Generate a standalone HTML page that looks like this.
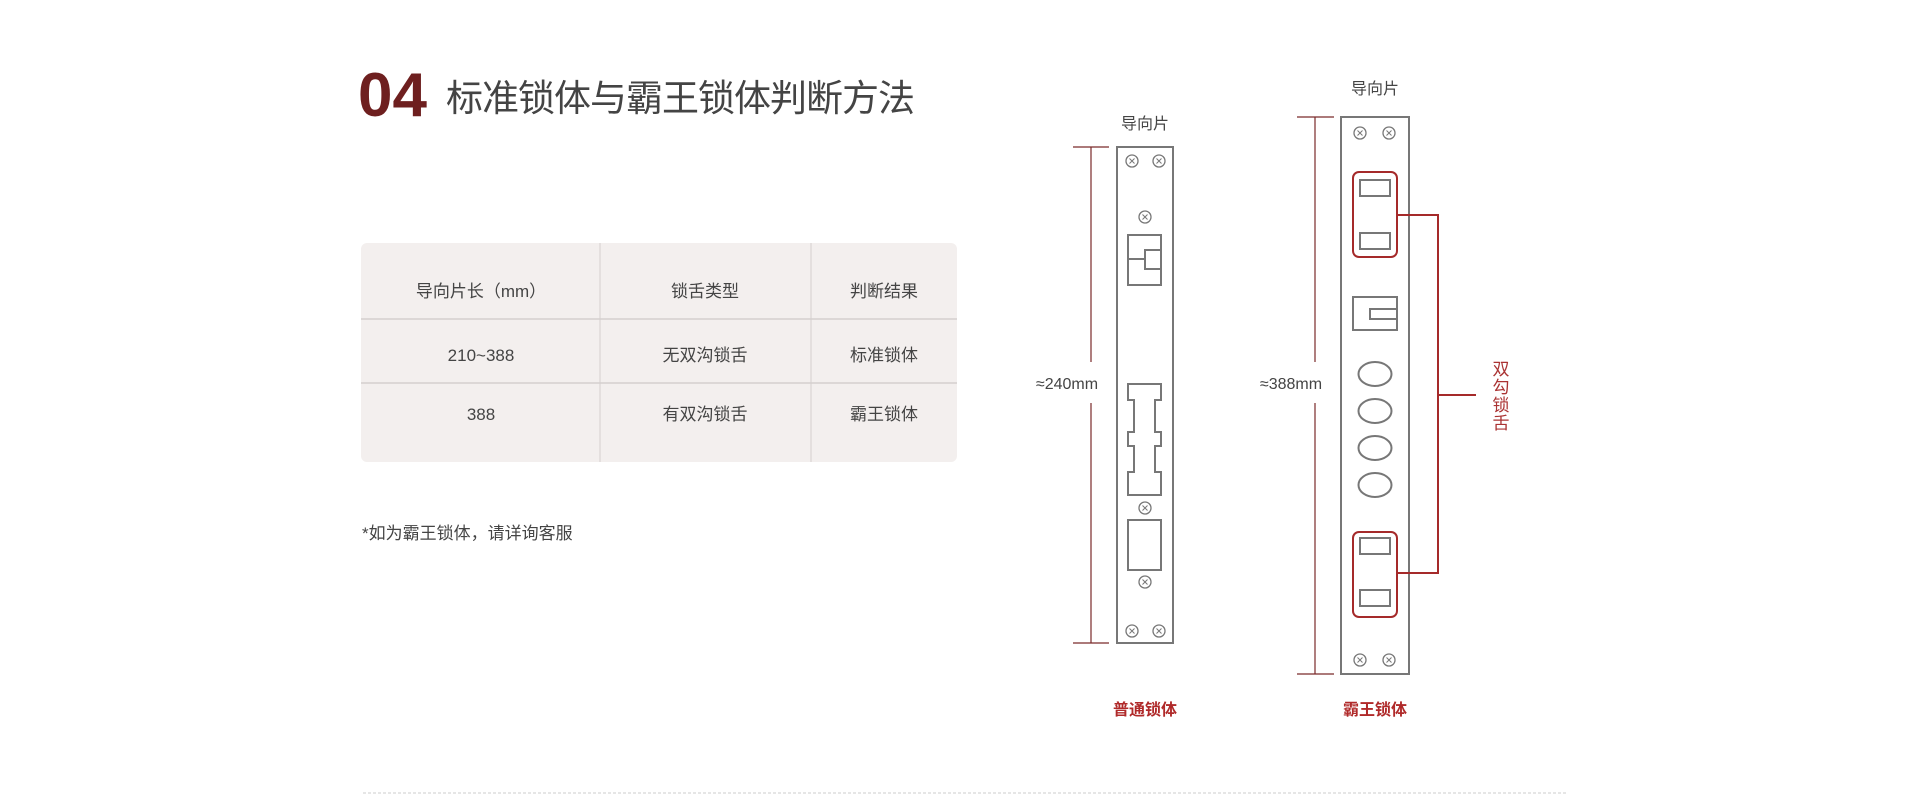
<!DOCTYPE html>
<html><head><meta charset="utf-8"><style>
html,body{margin:0;padding:0;background:#fff;}
svg{display:block;}
text{font-family:"Liberation Sans","Noto Sans CJK SC",sans-serif;}
</style></head><body>
<svg width="1920" height="804" viewBox="0 0 1920 804" xmlns="http://www.w3.org/2000/svg">
<defs>
<g id="sc"><circle r="6" fill="#fff" stroke="#777" stroke-width="1.3"/><path d="M-2.5 -2.5 L2.5 2.5 M2.5 -2.5 L-2.5 2.5" stroke="#777" stroke-width="1"/></g>
</defs>
<text x="358" y="116" font-size="62" font-weight="bold" fill="#6e1f1f">04</text>
<text x="446" y="111" font-size="37" fill="#444" letter-spacing="-1">标准锁体与霸王锁体判断方法</text>

<rect x="361" y="243" width="596" height="219" rx="6" fill="#f3efee"/>
<line x1="600" y1="243" x2="600" y2="462" stroke="#d4cfce" stroke-width="1"/>
<line x1="811" y1="243" x2="811" y2="462" stroke="#d4cfce" stroke-width="1"/>
<line x1="361" y1="319" x2="957" y2="319" stroke="#d4cfce" stroke-width="1.5"/>
<line x1="361" y1="383" x2="957" y2="383" stroke="#d4cfce" stroke-width="1.5"/>
<g font-size="17" fill="#444" text-anchor="middle">
<text x="481" y="297">导向片长（mm）</text>
<text x="705" y="297">锁舌类型</text>
<text x="884" y="297">判断结果</text>
<text x="481" y="361">210~388</text>
<text x="705" y="361">无双沟锁舌</text>
<text x="884" y="361">标准锁体</text>
<text x="481" y="420">388</text>
<text x="705" y="420">有双沟锁舌</text>
<text x="884" y="420">霸王锁体</text>
</g>
<text x="362" y="539" font-size="17" fill="#444">*如为霸王锁体，请详询客服</text>

<!-- left lock -->
<text x="1145" y="129" font-size="16" fill="#444" text-anchor="middle">导向片</text>
<g stroke="#7a2a2a" stroke-width="1.2" fill="none">
<line x1="1073" y1="147" x2="1109" y2="147"/><line x1="1073" y1="643" x2="1109" y2="643"/>
<line x1="1091" y1="147" x2="1091" y2="362"/><line x1="1091" y1="403" x2="1091" y2="643"/>
</g>
<text x="1067" y="389" font-size="16" fill="#444" text-anchor="middle">≈240mm</text>
<g stroke="#777" stroke-width="2" fill="none">
<rect x="1117" y="147" width="56" height="496" fill="#fff"/>
<rect x="1128" y="235" width="33" height="50"/>
<line x1="1128" y1="259" x2="1145" y2="259"/>
<rect x="1145" y="250" width="16" height="19"/>
<path d="M1128 384 H1161 V400 H1155 V432 H1161 V446 H1155 V472 H1161 V495 H1128 V472 H1134 V446 H1128 V432 H1134 V400 H1128 Z"/>
<rect x="1128" y="520" width="33" height="50"/>
</g>
<use href="#sc" x="1132" y="161"/><use href="#sc" x="1159" y="161"/>
<use href="#sc" x="1145" y="217"/><use href="#sc" x="1145" y="508"/><use href="#sc" x="1145" y="582"/>
<use href="#sc" x="1132" y="631"/><use href="#sc" x="1159" y="631"/>
<text x="1145" y="715" font-size="16" font-weight="bold" fill="#b02a2a" text-anchor="middle">普通锁体</text>

<!-- right lock -->
<text x="1375" y="94" font-size="16" fill="#444" text-anchor="middle">导向片</text>
<g stroke="#7a2a2a" stroke-width="1.2" fill="none">
<line x1="1297" y1="117" x2="1334" y2="117"/><line x1="1297" y1="674" x2="1334" y2="674"/>
<line x1="1315" y1="117" x2="1315" y2="362"/><line x1="1315" y1="403" x2="1315" y2="674"/>
</g>
<text x="1291" y="389" font-size="16" fill="#444" text-anchor="middle">≈388mm</text>
<g stroke="#777" stroke-width="2" fill="none">
<rect x="1341" y="117" width="68" height="557" fill="#fff"/>
<rect x="1360" y="180" width="30" height="16"/><rect x="1360" y="233" width="30" height="16"/>
<rect x="1360" y="538" width="30" height="16"/><rect x="1360" y="590" width="30" height="16"/>
<rect x="1353" y="297" width="44" height="33"/>
<rect x="1370" y="309" width="27" height="10"/>
<ellipse cx="1375" cy="374" rx="16.5" ry="12"/><ellipse cx="1375" cy="411" rx="16.5" ry="12"/>
<ellipse cx="1375" cy="448" rx="16.5" ry="12"/><ellipse cx="1375" cy="485" rx="16.5" ry="12"/>
</g>
<use href="#sc" x="1360" y="133"/><use href="#sc" x="1389" y="133"/>
<use href="#sc" x="1360" y="660"/><use href="#sc" x="1389" y="660"/>
<g stroke="#a52a2a" stroke-width="2" fill="none">
<rect x="1353" y="172" width="44" height="85" rx="6"/>
<rect x="1353" y="532" width="44" height="85" rx="6"/>
<path d="M1397 215 H1438 V573 H1397"/>
<line x1="1438" y1="395" x2="1476" y2="395"/>
</g>
<g font-size="17" fill="#a33" text-anchor="middle">
<text x="1501" y="375">双</text><text x="1501" y="393">勾</text><text x="1501" y="411">锁</text><text x="1501" y="429">舌</text>
</g>
<text x="1375" y="715" font-size="16" font-weight="bold" fill="#b02a2a" text-anchor="middle">霸王锁体</text>

<line x1="363" y1="793" x2="1566" y2="793" stroke="#ccc" stroke-width="1" stroke-dasharray="3,2"/>
</svg>
</body></html>
